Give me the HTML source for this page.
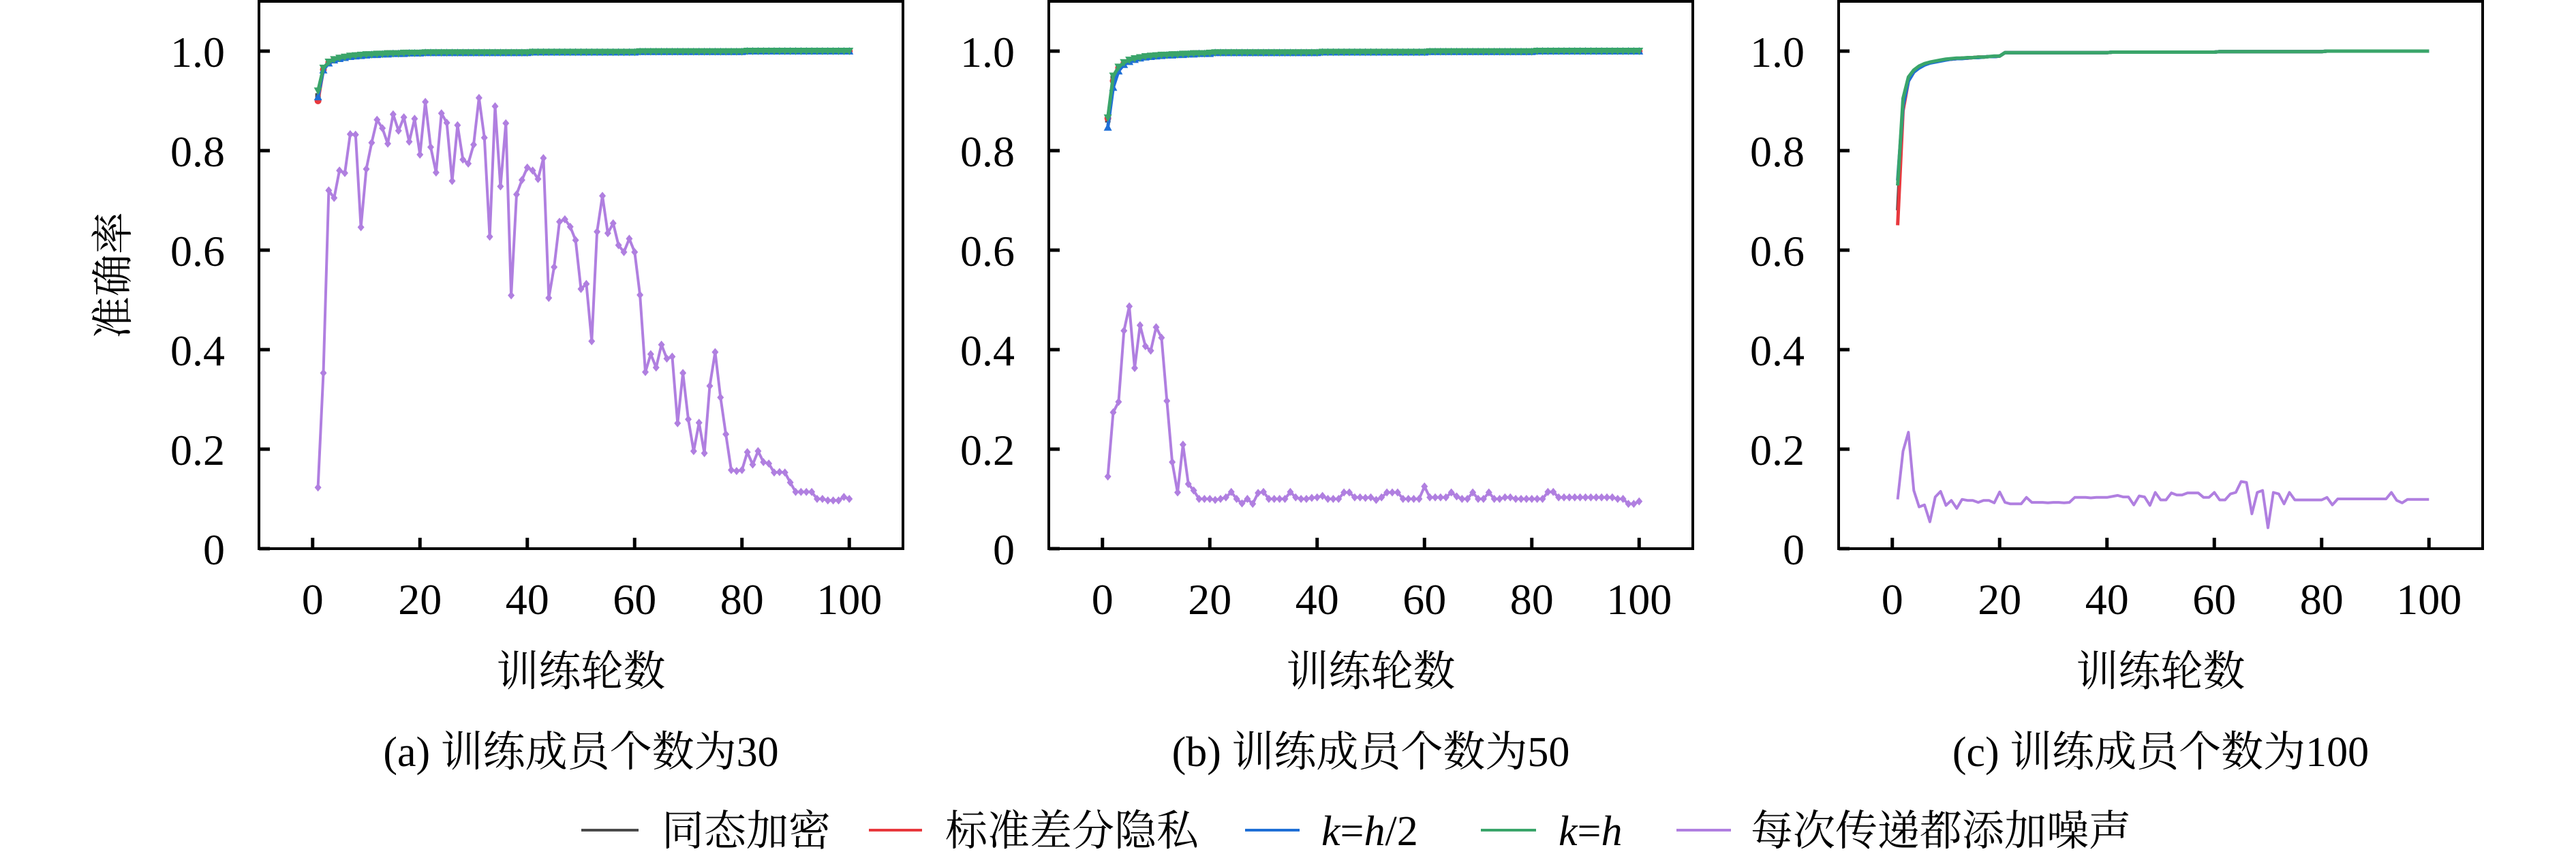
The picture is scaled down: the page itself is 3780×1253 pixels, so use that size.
<!DOCTYPE html>
<html><head><meta charset="utf-8"><style>
html,body{margin:0;padding:0;background:#fff;}
svg{display:block;}
text{font-family:"Liberation Serif","Noto Serif CJK SC",serif;fill:#000;}
</style></head><body>
<svg id="fig" width="3780" height="1253" viewBox="0 0 3780 1253" xmlns="http://www.w3.org/2000/svg"></svg>
<script>
const epochs = Array.from({length:100},(_,i)=>i+1);
const xTicks = [0,20,40,60,80,100];
const yTicks = [0,0.2,0.4,0.6,0.8,1.0];
const yTickLabels = ["0","0.2","0.4","0.6","0.8","1.0"];
const captions = ["(a) 训练成员个数为30","(b) 训练成员个数为50","(c) 训练成员个数为100"];
const tail = [.997,.997,.997,.997,.997,.997,.997,.997,.997,.997,.997,.997,.997,.997,.997,.997,.997,.997,.997,.997,
.998,.998,.998,.998,.998,.998,.998,.998,.998,.998,.998,.998,.998,.998,.998,.998,.998,.998,.998,.998,
.999,.999,.999,.999,.999,.999,.999,.999,.999,.999,.999,.999,.999,.999,.999,.999,.999,.999,.999,.999,
1,1,1,1,1,1,1,1,1,1,1,1,1,1,1,1,1,1,1,1];
// panel a heads (epochs 1-20)
const a_he = [.91,.965,.978,.983,.986,.988,.99,.991,.992,.993,.993,.994,.994,.995,.995,.995,.996,.996,.996,.996];
const a_dp = [.90,.963,.977,.983,.986,.988,.99,.991,.992,.993,.993,.994,.994,.995,.995,.995,.996,.996,.996,.996];
const a_k2 = [.908,.962,.976,.982,.985,.987,.989,.99,.991,.992,.993,.993,.994,.994,.995,.995,.995,.996,.996,.996];
const a_kh = [.92,.966,.978,.983,.986,.988,.99,.991,.992,.993,.993,.994,.994,.995,.995,.995,.996,.996,.996,.996];
const a_noise = [.123,.353,.72,.705,.76,.755,.833,.832,.646,.763,.816,.862,.845,.814,.873,.84,.867,.818,.864,.792,
.898,.807,.756,.875,.856,.739,.851,.782,.774,.812,.906,.826,.627,.889,.728,.855,.509,.712,.741,.766,
.76,.743,.785,.504,.566,.657,.662,.647,.62,.522,.532,.417,.637,.709,.634,.654,.61,.596,.623,.596,
.51,.355,.391,.364,.41,.382,.386,.252,.353,.26,.196,.253,.192,.327,.395,.304,.23,.158,.156,.158,
.194,.169,.196,.174,.171,.153,.154,.153,.133,.114,.114,.114,.114,.1,.1,.097,.097,.097,.104,.1];
// panel b
const b_he = [.862,.945,.968,.977,.982,.985,.987,.989,.99,.991,.992,.992,.993,.993,.994,.994,.995,.995,.995,.996];
const b_dp = [.865,.94,.966,.976,.981,.985,.987,.989,.99,.991,.992,.992,.993,.993,.994,.994,.995,.995,.995,.996];
const b_k2 = [.847,.927,.96,.973,.979,.983,.986,.988,.989,.99,.991,.992,.992,.993,.993,.994,.994,.995,.995,.995];
const b_kh = [.866,.95,.968,.977,.982,.985,.987,.989,.99,.991,.992,.992,.993,.993,.994,.994,.995,.995,.995,.996];
const b_noise = [.145,.274,.295,.438,.487,.363,.449,.407,.398,.445,.424,.297,.174,.113,.209,.13,.117,.1,.1,.1,
.098,.1,.103,.114,.1,.091,.1,.09,.112,.114,.1,.1,.1,.1,.114,.103,.1,.1,.102,.103,
.106,.1,.1,.1,.113,.113,.103,.103,.102,.103,.098,.103,.113,.113,.113,.1,.1,.1,.1,.125,
.103,.103,.103,.103,.113,.105,.1,.1,.113,.1,.1,.113,.1,.1,.103,.103,.1,.1,.1,.1,
.1,.1,.114,.114,.103,.103,.103,.103,.103,.103,.103,.103,.103,.103,.103,.1,.1,.09,.09,.095];
// panel c
const c_he = [.68,.9,.945,.96,.968,.973,.977,.979,.981,.983,.984,.985,.986,.986,.987,.988,.988,.989,.989,.99];
const c_dp = [.65,.88,.94,.958,.967,.973,.977,.979,.981,.983,.984,.985,.986,.986,.987,.988,.988,.989,.989,.99];
const c_k2 = [.74,.89,.94,.958,.966,.972,.976,.978,.98,.982,.984,.985,.985,.986,.987,.987,.988,.989,.989,.99];
const c_kh = [.73,.905,.948,.962,.97,.975,.978,.98,.982,.984,.985,.986,.986,.987,.987,.988,.988,.989,.99,.99];
const c_noise = [.099,.196,.234,.117,.084,.088,.054,.104,.115,.087,.097,.081,.099,.097,.097,.093,.097,.097,.092,.114,
.093,.09,.09,.09,.103,.093,.093,.093,.092,.093,.093,.092,.093,.103,.103,.103,.102,.103,.103,.103,
.105,.107,.104,.104,.088,.106,.104,.087,.113,.098,.098,.112,.108,.108,.112,.112,.112,.103,.103,.113,
.098,.098,.11,.113,.135,.133,.07,.113,.117,.042,.113,.11,.09,.113,.098,.098,.098,.098,.098,.098,
.103,.088,.1,.1,.1,.1,.1,.1,.1,.1,.1,.1,.113,.097,.092,.099,.099,.099,.099,.099];

const NS="http://www.w3.org/2000/svg";
const svg=document.getElementById('fig');
function mk(tag,attrs,parent){const e=document.createElementNS(NS,tag);for(const k in attrs)e.setAttribute(k,attrs[k]);(parent||svg).appendChild(e);return e;}

const PL=[380,1539,2698], PW=945, PT=2, PB=805;
const COL={he:"#4a4a4a",dp:"#e8383d",k2:"#1f6fd6",kh:"#3aa56a",noise:"#b07fe0"};
const panels=[
 {he:a_he,dp:a_dp,k2:a_k2,kh:a_kh,noise:a_noise,markers:true},
 {he:b_he,dp:b_dp,k2:b_k2,kh:b_kh,noise:b_noise,markers:true},
 {he:c_he,dp:c_dp,k2:c_k2,kh:c_kh,noise:c_noise,markers:false}
];
const names=["a","b","c"];

panels.forEach((p,pi)=>{
  const L=PL[pi];
  const xs=v=>L+(v+10)/120*PW;
  const ys=v=>PB-(v/1.1)*(PB-PT);
  const g=mk('g',{});
  
  
  // series
  const order=['he','dp','k2','kh','noise'];
  order.forEach(key=>{
    let arr=key==='noise'?p.noise:p[key].concat(tail);
    const pts=arr.map((v,i)=>xs(epochs[i]).toFixed(1)+','+ys(v).toFixed(1)).join(' ');
    const pl=mk('polyline',{points:pts,fill:'none',stroke:COL[key],'stroke-width':key==='noise'?4:5,'stroke-linejoin':'round'},g);
    
    
    if(p.markers){
      arr.forEach((v,i)=>{
        const cx=xs(epochs[i]),cy=ys(v);let m;
        if(key==='noise'){m=mk('path',{d:`M${cx},${cy-6}L${cx+5},${cy}L${cx},${cy+6}L${cx-5},${cy}Z`,fill:COL[key]},g);}
        else if(key==='dp'){m=mk('circle',{cx:cx,cy:cy,r:5,fill:COL[key]},g);}
        else if(key==='k2'){m=mk('path',{d:`M${cx},${cy-6}L${cx+6},${cy+5}L${cx-6},${cy+5}Z`,fill:COL[key]},g);}
        else if(key==='kh'){m=mk('path',{d:`M${cx},${cy+6}L${cx+6},${cy-5}L${cx-6},${cy-5}Z`,fill:COL[key]},g);}
        else {m=mk('rect',{x:cx-4,y:cy-4,width:8,height:8,fill:COL[key]},g);}
        
        
      });
    }
  });
  // frame
  const fr=mk('rect',{x:L,y:PT,width:PW,height:PB-PT,fill:'none',stroke:'#000','stroke-width':4},g);
  
  
  xTicks.forEach(t=>{
    const x=xs(t);
    const tk=mk('line',{x1:x,y1:PB,x2:x,y2:PB-16,stroke:'#000','stroke-width':5},g);
    
    
    const tl=mk('text',{x:x,y:901,'font-size':64,'text-anchor':'middle'},g);
    tl.textContent=String(t);
    
    
  });
  yTicks.forEach((t,i)=>{
    const y=ys(t);
    const tk=mk('line',{x1:L,y1:y,x2:L+16,y2:y,stroke:'#000','stroke-width':5},g);
    
    
    const tl=mk('text',{x:L-50,y:y+23,'font-size':64,'text-anchor':'end'},g);
    tl.textContent=yTickLabels[i];
    
    
  });
  const xt=mk('text',{x:L+PW/2,y:1006,'font-size':62,'text-anchor':'middle'},g);
  xt.textContent='训练轮数';
  
  
  const cp=mk('text',{x:L+PW/2,y:1124,'font-size':62,'text-anchor':'middle'},g);
  cp.textContent=captions[pi];
  
  
});
// y axis title
const yt=mk('text',{x:0,y:0,'font-size':62,'text-anchor':'middle',transform:'translate(187,404) rotate(-90)'});
yt.textContent='准确率';


// legend
const legendLines=[[853,937,'he'],[1275,1353,'dp'],[1827,1907,'k2'],[2173,2254,'kh'],[2460,2540,'noise']];
const legendText=[[971,'同态加密'],[1387,'标准差分隐私'],[1939,null],[2287,null],[2569,'每次传递都添加噪声']];
const lg=mk('g',{});


legendLines.forEach((l,i)=>{
  const ln=mk('line',{x1:l[0],y1:1218,x2:l[1],y2:1218,stroke:COL[l[2]],'stroke-width':4},lg);
  
  
  const t=mk('text',{x:legendText[i][0],y:1240,'font-size':62},lg);
  if(legendText[i][1]) t.textContent=legendText[i][1];
  else if(i===2) t.innerHTML='<tspan font-style="italic">k</tspan>=<tspan font-style="italic">h</tspan>/2';
  else t.innerHTML='<tspan font-style="italic">k</tspan>=<tspan font-style="italic">h</tspan>';
  
  
});
</script>
</body></html>
